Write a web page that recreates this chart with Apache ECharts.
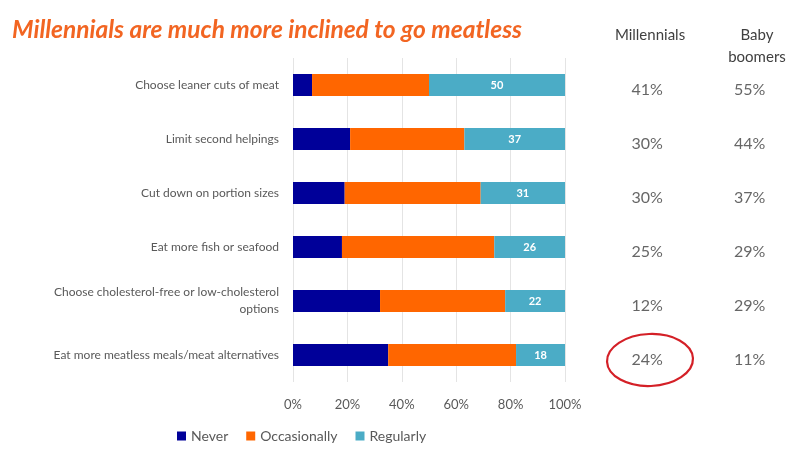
<!DOCTYPE html>
<html><head><meta charset="utf-8">
<script src="https://cdn.jsdelivr.net/npm/echarts@6/dist/echarts.min.js"></script>
<style>html,body{margin:0;padding:0;background:#fff}#c{width:801px;height:450px}</style>
</head><body><div id="c"></div>
<script>
const categories = ['Choose leaner cuts of meat','Limit second helpings','Cut down on portion sizes','Eat more fish or seafood','Choose cholesterol-free or low-cholesterol\noptions','Eat more meatless meals/meat alternatives'];
const never = [7, 21, 19, 18, 32, 35];
const occasionally = [43, 42, 50, 56, 46, 47];
const regularly = [50, 37, 31, 26, 22, 18];
const millennials = [41, 30, 30, 25, 12, 24];
const babyBoomers = [55, 44, 37, 29, 29, 11];
const xTicks = ['0%','20%','40%','60%','80%','100%'];

const chart = echarts.init(document.getElementById('c'));
const F = 'Lato, "Open Sans", sans-serif';
const gridTop = 58, gridBottom = 68;
chart.setOption({
  animation: false,
  textStyle: {fontFamily: F},
  title: {text: 'Millennials are much more inclined to go meatless', left: 7, top: 13,
    textStyle: {color: '#F26522', fontSize: 24.5, fontStyle: 'italic', fontWeight: 'bold', fontFamily: F}},
  legend: {left: 172, top: 424, itemWidth: 9, itemHeight: 9, itemGap: 18, icon: 'rect',
    textStyle: {color: '#595959', fontSize: 14, fontFamily: F},
    data: ['Never','Occasionally','Regularly']},
  grid: [
    {left: 293, right: 236, top: gridTop, bottom: gridBottom},
    {left: 596, width: 214, top: gridTop, bottom: gridBottom}
  ],
  xAxis: [
    {type: 'value', gridIndex: 0, min: 0, max: 100, interval: 20,
     axisLine: {show: false}, axisTick: {show: false},
     splitLine: {lineStyle: {color: '#E4E4E4'}},
     axisLabel: {color: '#595959', fontSize: 13, margin: 16, formatter: v => xTicks[v/20]}},
    {type: 'value', gridIndex: 1, min: 0, max: 2, show: false}
  ],
  yAxis: [
    {type: 'category', gridIndex: 0, data: categories, inverse: true,
     axisLine: {show: false}, axisTick: {show: false},
     axisLabel: {color: '#595959', fontSize: 12, margin: 14, align: 'right', lineHeight: 17}},
    {type: 'category', gridIndex: 1, data: categories, inverse: true, show: false}
  ],
  series: [
    {name: 'Never', type: 'bar', stack: 's', data: never, barWidth: 22, itemStyle: {color: '#000099'}},
    {name: 'Occasionally', type: 'bar', stack: 's', data: occasionally, itemStyle: {color: '#FF6600'}},
    {name: 'Regularly', type: 'bar', stack: 's', data: regularly, itemStyle: {color: '#4BACC6'},
     label: {show: true, position: 'inside', color: '#fff', fontWeight: 'bold', fontSize: 11}},
    {type: 'scatter', xAxisIndex: 1, yAxisIndex: 1, symbolSize: 0,
     data: millennials.map((v, i) => [0.5, categories[i], v]),
     label: {show: true, position: 'inside', offset: [0, 5], color: '#404040', fontSize: 16, formatter: p => p.data[2] + '%'}},
    {type: 'scatter', xAxisIndex: 1, yAxisIndex: 1, symbolSize: 0,
     data: babyBoomers.map((v, i) => [1.5, categories[i], v]),
     label: {show: true, position: 'inside', offset: [0, 5], color: '#404040', fontSize: 16, formatter: p => p.data[2] + '%'}}
  ],
  graphic: [
    {type: 'text', x: 650, y: 28, style: {text: 'Millennials', fill: '#404040', fontSize: 15, fontFamily: F, align: 'center'}},
    {type: 'text', x: 757, y: 24, style: {text: 'Baby\nboomers', fill: '#404040', fontSize: 15, fontFamily: F, align: 'center', lineHeight: 22}},
    {type: 'ellipse', shape: {cx: 650, cy: 360, rx: 43, ry: 26}, rotation: 0.04, originX: 650, originY: 360,
     style: {fill: 'none', stroke: '#D42027', lineWidth: 2.2}}
  ]
});
</script></body></html>
